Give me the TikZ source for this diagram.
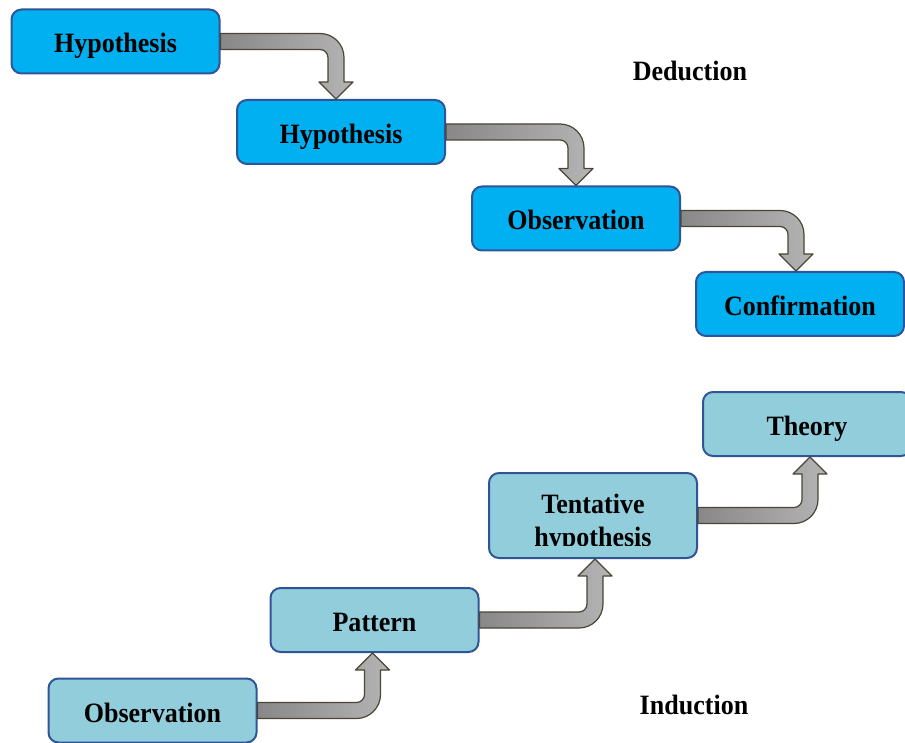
\documentclass[tikz,border=0pt]{standalone}
\usepackage{fontspec}
\setmainfont{Liberation Serif}[FakeStretch=0.93]
\usetikzlibrary{calc}

\definecolor{deepfill}{HTML}{00B0F0}
\definecolor{palefill}{HTML}{92CDDC}
\definecolor{boxline}{HTML}{2F5597}
\definecolor{arrowline}{HTML}{4A4536}
\definecolor{arrowdark}{HTML}{888888}
\definecolor{arrowlight}{HTML}{B4B4B4}

\tikzset{
  labelfont/.style={font=\bfseries\fontsize{28}{32}\selectfont},
  stagebox/.style={draw=boxline, line width=2pt, rounded corners=10pt,
    minimum width=208pt, minimum height=64pt, inner sep=0pt,
    text height=23pt, text depth=0pt, labelfont},
  deepbox/.style={stagebox, fill=deepfill},
  palebox/.style={stagebox, fill=palefill},
  heading/.style={labelfont, inner sep=0pt},
  bent/.style={draw=arrowline, line width=1.2pt, line join=round,
    left color=arrowdark, right color=arrowlight},
}

% Bent block arrow: leaves #1 to the right, turns and ends at anchor #3 of #2.
% #4 = +1 for an upward turn, -1 for a downward turn; #5 = sideways shift of the stem.
\newcommand\bentarrow[5]{%
  \path[bent] let \p1=(#1.east), \p2=(#2.#3), \p3=($(#2.#3)+(#5,0)$) in
    (\x1, {\y1-(#4)*8pt}) -- ({\x3-16pt}, {\y1-(#4)*8pt})
    .. controls ({\x3-2.75pt}, {\y1-(#4)*8pt}) and ({\x3+8pt}, {\y1-(#4)*8pt+(#4)*10.75pt})
    .. ({\x3+8pt}, {\y1+(#4)*16pt})
    -- ({\x3+8pt}, {\y2-(#4)*17pt}) -- ({\x3+17pt}, {\y2-(#4)*17pt})
    -- (\x3, \y2)
    -- ({\x3-17pt}, {\y2-(#4)*17pt}) -- ({\x3-8pt}, {\y2-(#4)*17pt})
    -- ({\x3-8pt}, {\y1+(#4)*16pt})
    .. controls ({\x3-8pt}, {\y1+(#4)*11.58pt}) and ({\x3-11.58pt}, {\y1+(#4)*8pt})
    .. ({\x3-16pt}, {\y1+(#4)*8pt})
    -- (\x1, {\y1+(#4)*8pt}) -- cycle;
}

\begin{document}
\begin{tikzpicture}[x=1pt, y=-1pt]
  \useasboundingbox (0,0) rectangle (905,743);

  % Deduction
  \node[deepbox] (d1) at (115.5,41.5) {Hypothesis};
  \node[deepbox] (d2) at (341,132) {Hypothesis};
  \node[deepbox] (d3) at (576,218.5) {Observation};
  \node[deepbox] (d4) at (800,304) {Confirmation};
  \node[heading, anchor=base] (ded) at (690,81) {Deduction};

  \bentarrow{d1}{d2}{north}{-1}{-5}
  \bentarrow{d2}{d3}{north}{-1}{0}
  \bentarrow{d3}{d4}{north}{-1}{-4}

  % Induction
  \node[palebox] (i1) at (152.5,710.5) {Observation};
  \node[palebox] (i2) at (374.5,620) {Pattern};
  \node[palebox, minimum height=85pt] (i3) at (593,515.5) {};
  \begin{scope}
    \clip (489,473) rectangle (697,545);
    \node[heading, anchor=base] (i3a) at (593,513) {Tentative};
    \node[heading, anchor=base] (i3b) at (593,546) {hypothesis};
  \end{scope}
  \node[palebox] (i4) at (807,424) {Theory};
  \node[heading, anchor=base] (ind) at (694,714) {Induction};

  \bentarrow{i1}{i2}{south}{1}{-2}
  \bentarrow{i2}{i3}{south}{1}{2}
  \bentarrow{i3}{i4}{south}{1}{3}
\end{tikzpicture}
\end{document}
